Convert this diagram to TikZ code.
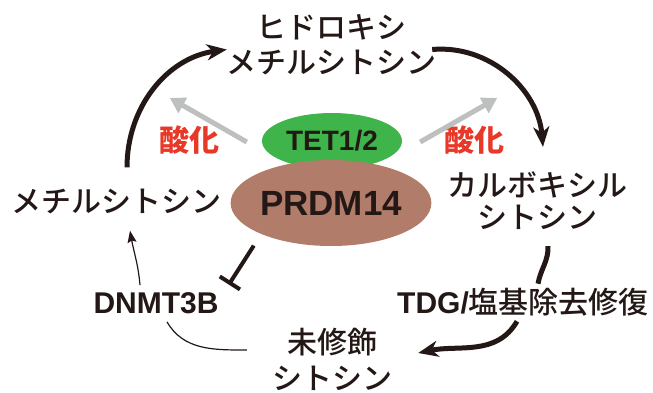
\documentclass[tikz,border=0pt]{standalone}
\usepackage{fontspec}
\setmainfont{Liberation Sans}
\newfontfamily\jp{Noto Sans CJK JP Medium}
\newfontfamily\jpbold{Noto Sans CJK JP}
\usetikzlibrary{arrows.meta,shapes.geometric}

\definecolor{inkblack}{RGB}{35,24,21}
\definecolor{tetgreen}{RGB}{62,180,74}
\definecolor{prdmbrown}{RGB}{178,124,106}
\definecolor{oxred}{RGB}{232,56,40}
\definecolor{oxgray}{RGB}{190,192,192}

\begin{document}
\begin{tikzpicture}[
    x=1pt, y=1pt,
    jtext/.style={
        text=inkblack,
        align=center,
        inner sep=2pt,
        font=\jp\fontsize{30}{35}\selectfont
    },
    etext/.style={
        text=inkblack,
        inner sep=2pt,
        font=\bfseries\fontsize{30}{35}\selectfont
    },
    oxtext/.style={
        text=oxred,
        inner sep=2pt,
        font=\jpbold\bfseries\fontsize{30}{35}\selectfont
    },
    enzyme/.style={
        ellipse,
        inner sep=0pt,
        text=inkblack,
        font=\bfseries
    },
    cycle/.style={-{Stealth[length=20pt,width=16pt,inset=6pt]}, line width=5pt, inkblack},
    thin/.style={line width=1.2pt, inkblack},
    oxarrow/.style={-{Triangle[length=15pt,width=17pt]}, line width=5pt, oxgray},
    inhibit/.style={-{Bar[width=24pt]}, line width=4pt, inkblack}
]
\useasboundingbox (0,0) rectangle (653,392);

\node[jtext] (hmc) at (331,347.5) {ヒドロキシ\\メチルシトシン};
\node[jtext] (mc) at (117,191) {メチルシトシン};
\node[jtext, font=\jp\fontsize{30}{32}\selectfont] (cac) at (537,191) {カルボキシル\\シトシン};
\node[jtext, font=\jp\fontsize{30}{36}\selectfont] (unc) at (332,33) {未修飾\\シトシン};

\node[etext] (dnmt) at (156,89) {DNMT3B};
\node[etext] (tdg) at (523,90) {TDG/{\jp\mdseries 塩基除去修復}};

\node[oxtext] (ox1) at (189,252) {酸化};
\node[oxtext] (ox2) at (474,252) {酸化};

\node[enzyme, fill=tetgreen, minimum width=140pt, minimum height=56pt,
      font=\bfseries\fontsize{28}{30}\selectfont] (tet) at (332,251) {TET1/2};
\node[enzyme, fill=prdmbrown, minimum width=172pt, minimum height=86pt,
      font=\bfseries\fontsize{35}{38}\selectfont] (prdm) at (331,189) {PRDM14};

\draw[oxarrow] ([xshift=-15pt,yshift=-1pt]tet.west) -- ++(-77,44);
\draw[oxarrow] ([xshift=18pt,yshift=-1pt]tet.east) -- ++(77,44);

\draw[cycle] ([xshift=10pt,yshift=19pt]mc.north) to[out=90,in=188] ([xshift=3pt,yshift=-5pt]hmc.west);
\draw[cycle] ([xshift=-6pt,yshift=-5pt]hmc.east) to[out=5,in=95] ([xshift=6pt,yshift=23pt]cac.north);
\draw[thin, line width=5pt] ([xshift=11pt,yshift=-14pt]cac.south) to[out=-88,in=80] ([xshift=15pt,yshift=2pt]tdg.north);
\draw[cycle] ([xshift=-6pt,yshift=-3pt]tdg.south) to[out=-120,in=12] ([xshift=24pt,yshift=6pt]unc.east);

\draw[thin] ([xshift=-23pt,yshift=9pt]unc.west) to[out=180,in=-60] ([xshift=11pt,yshift=-6pt]dnmt.south);
\draw[thin, -{Stealth[length=12pt,width=9pt,inset=2pt]}] ([xshift=-16pt,yshift=5pt]dnmt.north) to[out=95,in=-80] ([xshift=13pt,yshift=-15pt]mc.south);

\draw[inhibit] ([xshift=-14pt,yshift=-9pt]prdm.208) -- ++(-25,-39);

\end{tikzpicture}
\end{document}
